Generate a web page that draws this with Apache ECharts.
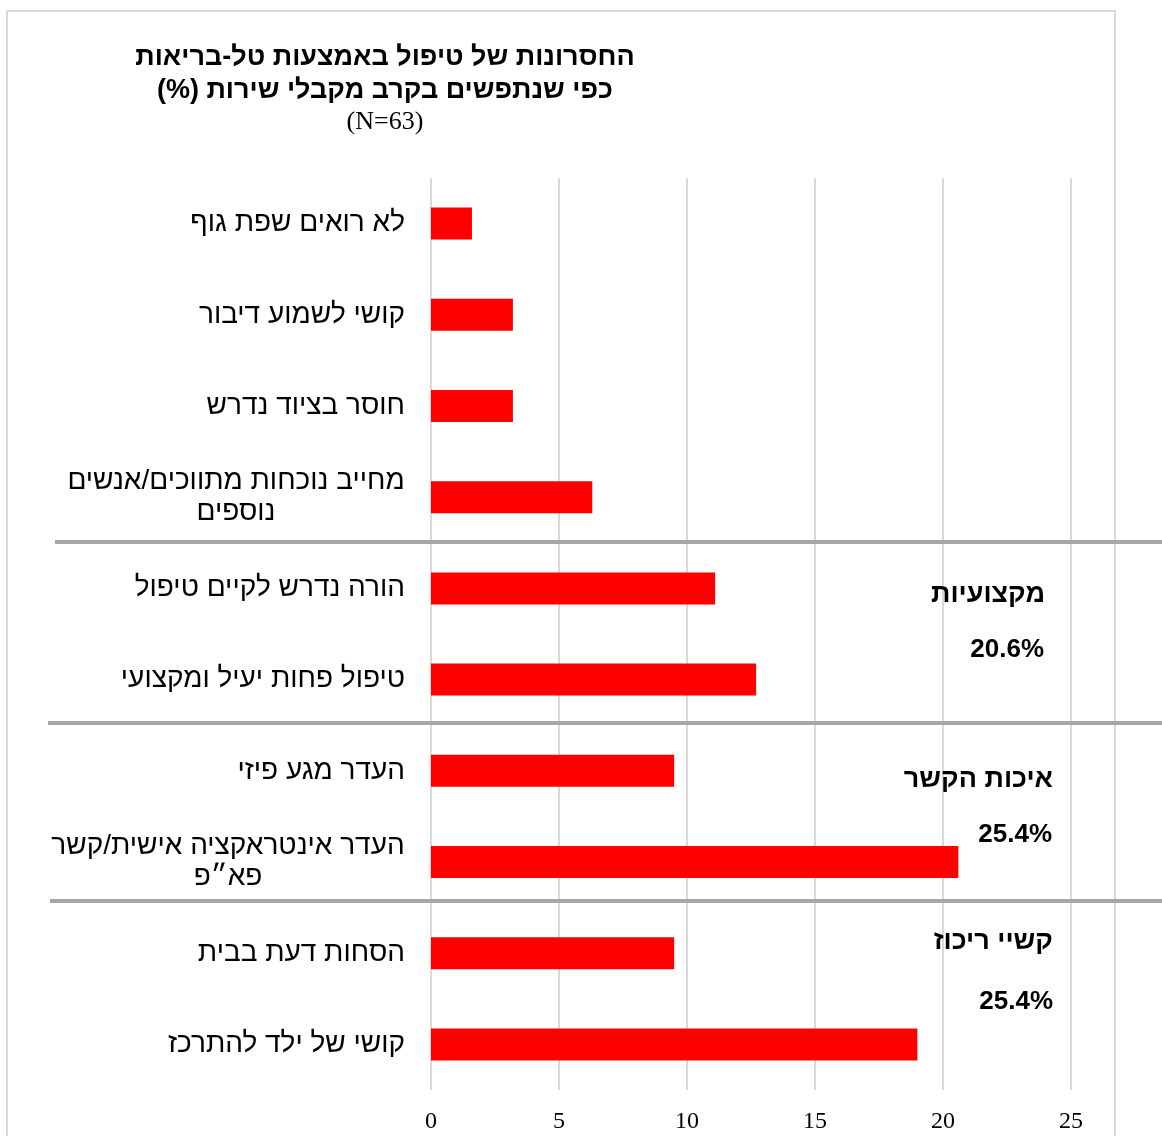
<!DOCTYPE html>
<html>
<head>
<meta charset="utf-8">
<script src="https://cdn.jsdelivr.net/npm/echarts@6/dist/echarts.min.js"></script>
<style>
html,body{margin:0;padding:0;background:#fff;}
#chart{width:1162px;height:1136px;direction:rtl;}
</style>
</head>
<body>
<div id="chart"></div>
<script>
// ---- data ----
const categories = [
  'לא רואים שפת גוף',
  'קושי לשמוע דיבור',
  'חוסר בציוד נדרש',
  'מחייב נוכחות מתווכים/אנשים\nנוספים',
  'הורה נדרש לקיים טיפול',
  'טיפול פחות יעיל ומקצועי',
  'העדר מגע פיזי',
  'העדר אינטראקציה אישית/קשר\nפא״פ',
  'הסחות דעת בבית',
  'קושי של ילד להתרכז'
];
const values = [1.6, 3.2, 3.2, 6.3, 11.1, 12.7, 9.5, 20.6, 9.5, 19.0];
const xTicks = [0, 5, 10, 15, 20, 25];
const titleLines = ['החסרונות של טיפול באמצעות טל-בריאות', 'כפי שנתפשים בקרב מקבלי שירות (%)', '(N=63)'];
const groupNames = ['מקצועיות', 'איכות הקשר', 'קשיי ריכוז'];
const groupPcts = ['20.6%', '25.4%', '25.4%'];
// separators drawn after these category indexes
const separatorsAfter = [3, 5, 7];

const HEB = '"Liberation Sans", "DejaVu Sans", sans-serif';
const LABEL_SIZE = 28;

// measure widths for centered multi-line labels
const mctx = document.createElement('canvas').getContext('2d');
mctx.font = LABEL_SIZE + 'px ' + HEB;
const rich = {};
categories.forEach((c, i) => {
  if (c.indexOf('\n') >= 0) {
    const w = Math.ceil(mctx.measureText(c.split('\n')[0]).width);
    rich['c' + i] = {width: w, align: 'center', fontSize: LABEL_SIZE, fontFamily: HEB, color: '#000', lineHeight: 31};
  }
});

const chart = echarts.init(document.getElementById('chart'), null, {renderer: 'canvas'});
const option = {
  backgroundColor: '#fff',
  animation: false,
  title: {
    text: '{b|' + titleLines[0] + '}\n{b|' + titleLines[1] + '}\n{n|' + titleLines[2] + '}',
    left: 380,
    top: 36,
    textAlign: 'center',
    textStyle: {
      fontWeight: 'normal',
      rich: {
        b: {fontSize: 27, fontWeight: 'bold', fontFamily: HEB, color: '#000', lineHeight: 33, align: 'center'},
        n: {fontSize: 26, fontWeight: 'normal', fontFamily: '"Liberation Serif", serif', color: '#000', lineHeight: 30, align: 'center'}
      }
    }
  },
  grid: {left: 431, right: 91, top: 178, bottom: 46, containLabel: false},
  xAxis: {
    type: 'value',
    min: xTicks[0],
    max: xTicks[xTicks.length - 1],
    interval: xTicks[1] - xTicks[0],
    axisLine: {show: false},
    axisTick: {show: false},
    axisLabel: {margin: 20, fontSize: 24, fontFamily: '"Liberation Serif", serif', color: '#000'},
    splitLine: {show: true, lineStyle: {color: '#d9d9d9', width: 2}}
  },
  yAxis: {
    type: 'category',
    data: categories,
    inverse: true,
    axisLine: {show: false},
    axisTick: {show: false},
    axisLabel: {
      margin: 26,
      fontSize: LABEL_SIZE,
      fontFamily: HEB,
      color: '#000',
      lineHeight: 31,
      align: 'right',
      rich: rich,
      formatter: function (v) {
        if (v.indexOf('\n') < 0) return v;
        const key = 'c' + categories.indexOf(v);
        return v.split('\n').map(l => '{' + key + '|' + l + '}').join('\n');
      }
    },
    splitLine: {show: false}
  },
  series: [{
    type: 'bar',
    data: values,
    barWidth: 32,
    itemStyle: {color: '#ff0000'},
    silent: true
  }]
};
chart.setOption(option);

// graphics: frame, separators, group annotations
const g = [];
g.push({type: 'rect', shape: {x: 7, y: 11, width: 1108, height: 1200}, style: {fill: null, stroke: '#d9d9d9', lineWidth: 2}, z: 0, silent: true});
const sepStart = [55, 48, 50];
const sepShift = [-1, -2, -7];
const catY = i => chart.convertToPixel({yAxisIndex: 0}, categories[i]);
separatorsAfter.forEach((idx, k) => {
  const y = Math.round((catY(idx) + catY(idx + 1)) / 2) + sepShift[k];
  g.push({type: 'line', shape: {x1: sepStart[k], y1: y, x2: 1162, y2: y}, style: {stroke: '#a6a6a6', lineWidth: 4}, z: 10, silent: true});
});
const annot = [
  {name: [1045, 595], pct: [1044, 650]},
  {name: [1053, 780], pct: [1052, 835]},
  {name: [1053, 942], pct: [1053, 1002]}
];
annot.forEach((a, k) => {
  g.push({type: 'text', x: a.name[0], y: a.name[1], style: {text: groupNames[k], fontSize: 27, fontWeight: 'bold', fontFamily: HEB, fill: '#000', align: 'right', verticalAlign: 'middle'}, z: 10, silent: true});
  g.push({type: 'text', x: a.pct[0], y: a.pct[1], style: {text: groupPcts[k], fontSize: 26, fontWeight: 'bold', fontFamily: HEB, fill: '#000', align: 'right', verticalAlign: 'middle'}, z: 10, silent: true});
});
chart.setOption({graphic: g});
</script>
</body>
</html>
